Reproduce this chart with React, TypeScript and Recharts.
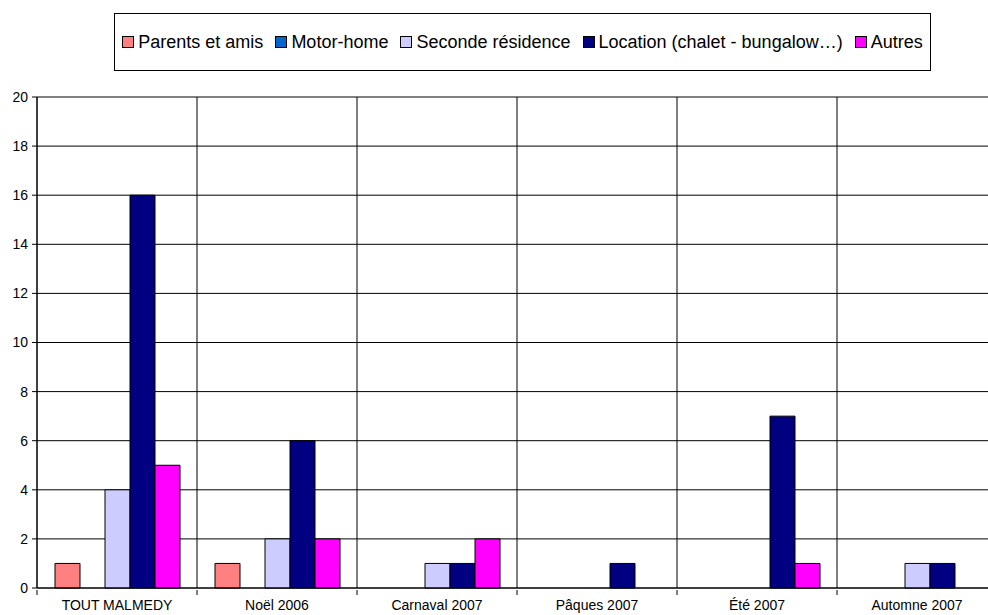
import React from "react";
import {
  Bar,
  BarChart,
  CartesianGrid,
  XAxis,
  YAxis,
} from "recharts";

const periods = [
  "TOUT MALMEDY",
  "Noël 2006",
  "Carnaval 2007",
  "Pâques 2007",
  "Été 2007",
  "Automne 2007",
];

const parentsEtAmis = [1, 1, 0, 0, 0, 0];
const motorHome = [0, 0, 0, 0, 0, 0];
const secondeResidence = [4, 2, 1, 0, 0, 1];
const location = [16, 6, 1, 1, 7, 1];
const autres = [5, 2, 2, 0, 1, 0];

const yTicks = [0, 2, 4, 6, 8, 10, 12, 14, 16, 18, 20];

const series = [
  { key: "parents", name: "Parents et amis", color: "#FF8080", values: parentsEtAmis },
  { key: "motor", name: "Motor-home", color: "#0066CC", values: motorHome },
  { key: "seconde", name: "Seconde résidence", color: "#CCCCFF", values: secondeResidence },
  { key: "location", name: "Location (chalet - bungalow…)", color: "#000080", values: location },
  { key: "autres", name: "Autres", color: "#FF00FF", values: autres },
];

const data = periods.map((period, i) => {
  const row: Record<string, string | number> = { period };
  series.forEach((s) => {
    row[s.key] = s.values[i];
  });
  return row;
});

const font = "'Liberation Sans', Arial, sans-serif";
const chartWidth = 1000;
const yAxisWidth = 37;
const rightMargin = 3;
const halfBand = (chartWidth - yAxisWidth - rightMargin) / periods.length / 2;

function PeriodTick(props: any) {
  const { x, y, payload } = props;
  const axisY = y - 6;
  return (
    <g>
      <line x1={x - halfBand} y1={axisY} x2={x - halfBand} y2={axisY + 5} stroke="#000" />
      <text
        x={x}
        y={axisY + 20}
        textAnchor="middle"
        fill="#000"
        fontSize={14}
        fontFamily={font}
      >
        {payload.value}
      </text>
    </g>
  );
}

function LegendBox() {
  return (
    <div
      style={{
        position: "absolute",
        left: 114,
        top: 13,
        width: 817,
        height: 58,
        border: "1px solid #000",
        display: "flex",
        alignItems: "center",
        justifyContent: "center",
        fontFamily: font,
        fontSize: 18,
        color: "#000",
        background: "#fff",
        boxSizing: "border-box",
        whiteSpace: "nowrap",
      }}
    >
      {series.map((s, i) => (
        <span
          key={s.key}
          style={{
            display: "inline-flex",
            alignItems: "center",
            marginRight: i < series.length - 1 ? 12 : 0,
          }}
        >
          <span
            style={{
              width: 12,
              height: 12,
              background: s.color,
              border: "1px solid #000",
              boxSizing: "border-box",
              marginRight: 4,
              display: "inline-block",
            }}
          />
          {s.name}
        </span>
      ))}
    </div>
  );
}

export default function App() {
  return (
    <div
      style={{
        position: "absolute",
        left: 0,
        top: 0,
        width: 988,
        height: 615,
        overflow: "hidden",
        background: "#fff",
      }}
    >
      <BarChart
        width={chartWidth}
        height={615}
        data={data}
        margin={{ top: 97, right: rightMargin, bottom: 0, left: 0 }}
        barCategoryGap={18}
        barGap={0}
      >
        <CartesianGrid
          stroke="#000"
          strokeWidth={1}
          verticalCoordinatesGenerator={({ offset }: any) =>
            periods.map((_, i) => offset.left + (i * offset.width) / periods.length)
          }
        />
        <XAxis
          dataKey="period"
          height={27}
          axisLine={{ stroke: "#000" }}
          tickLine={false}
          interval={0}
          tick={<PeriodTick />}
        />
        <YAxis
          width={yAxisWidth}
          domain={[0, 20]}
          ticks={yTicks}
          interval={0}
          axisLine={{ stroke: "#000" }}
          tickLine={{ stroke: "#000" }}
          tickSize={5}
          tickMargin={4}
          tick={{ fill: "#000", fontSize: 14, fontFamily: font }}
        />
        {series.map((s) => (
          <Bar
            key={s.key}
            dataKey={s.key}
            name={s.name}
            fill={s.color}
            stroke="#000"
            strokeWidth={1}
            isAnimationActive={false}
          />
        ))}
      </BarChart>
      <LegendBox />
    </div>
  );
}
